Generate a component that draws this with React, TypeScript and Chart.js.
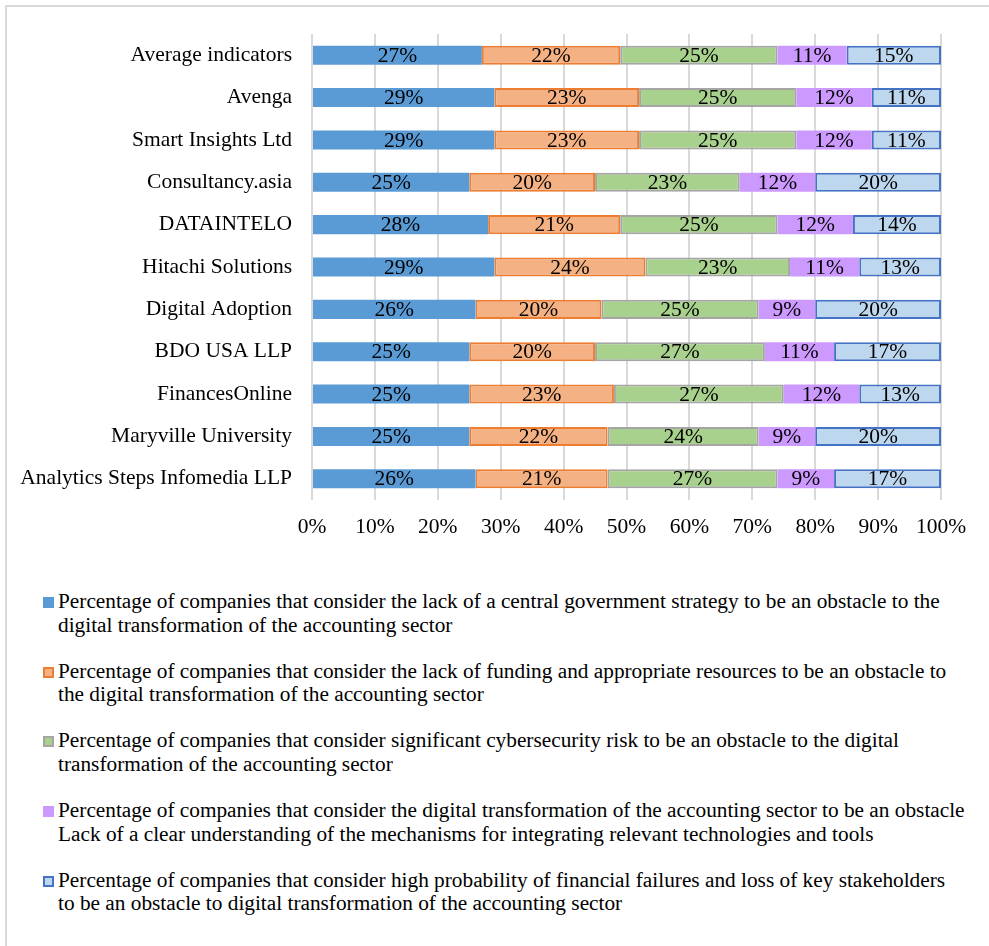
import React, { useEffect, useRef } from "react";
import { Chart, registerables } from "chart.js";

Chart.register(...registerables);

const categories = [
  "Average indicators",
  "Avenga",
  "Smart Insights Ltd",
  "Consultancy.asia",
  "DATAINTELO",
  "Hitachi Solutions",
  "Digital Adoption",
  "BDO USA LLP",
  "FinancesOnline",
  "Maryville University",
  "Analytics Steps Infomedia LLP",
];

const governmentStrategy = [27, 29, 29, 25, 28, 29, 26, 25, 25, 25, 26];
const fundingResources = [22, 23, 23, 20, 21, 24, 20, 20, 23, 22, 21];
const cybersecurityRisk = [25, 25, 25, 23, 25, 23, 25, 27, 27, 24, 27];
const lackUnderstanding = [11, 12, 12, 12, 12, 11, 9, 11, 12, 9, 9];
const financialFailures = [15, 11, 11, 20, 14, 13, 20, 17, 13, 20, 17];

const xTicks = [0, 10, 20, 30, 40, 50, 60, 70, 80, 90, 100];

const seriesLabels = [
  "Percentage of companies that consider the lack of a central government strategy to be an obstacle to the\ndigital transformation of the accounting sector",
  "Percentage of companies that consider the lack of funding and appropriate resources to be an obstacle to\nthe digital transformation of the accounting sector",
  "Percentage of companies that consider significant cybersecurity risk to be an obstacle to the digital\ntransformation of the accounting sector",
  "Percentage of companies that consider the digital transformation of the accounting sector to be an obstacle\nLack of a clear understanding of the mechanisms for integrating relevant technologies and tools",
  "Percentage of companies that consider high probability of financial failures and loss of key stakeholders\nto be an obstacle to digital transformation of the accounting sector",
];

const seriesValues = [governmentStrategy, fundingResources, cybersecurityRisk, lackUnderstanding, financialFailures];
const fillColors = ["#5b9bd5", "#f4b183", "#a9d18e", "#cc99ff", "#bdd7ee"];
const borderColors = ["#5b9bd5", "#ed7d31", "#a5a5a5", "#cc99ff", "#4472c4"];
const borderWidths = [0, 2, 2, 0, 2];

const FONT = '"Liberation Serif", "Times New Roman", serif';

const valueLabelPlugin = {
  id: "valueLabels",
  afterDatasetsDraw(chart: any) {
    const ctx = chart.ctx;
    ctx.save();
    ctx.font = `21.5px ${FONT}`;
    ctx.fillStyle = "#000";
    ctx.textAlign = "center";
    ctx.textBaseline = "middle";
    chart.data.datasets.forEach((ds: any, i: number) => {
      const meta = chart.getDatasetMeta(i);
      meta.data.forEach((el: any, j: number) => {
        const cx = (el.x + el.base) / 2;
        ctx.fillText(ds.data[j] + "%", cx, el.y + 1);
      });
    });
    ctx.restore();
  },
};

export default function App() {
  const ref = useRef<HTMLCanvasElement | null>(null);

  useEffect(() => {
    if (!ref.current) return;
    const chart = new Chart(ref.current, {
      type: "bar",
      data: {
        labels: categories,
        datasets: seriesValues.map((vals, i) => ({
          label: seriesLabels[i].replace("\n", " "),
          data: vals,
          backgroundColor: fillColors[i],
          borderColor: borderColors[i],
          borderWidth: borderWidths[i],
          borderSkipped: false,
          categoryPercentage: 1,
          barPercentage: 0.45,
        })),
      },
      options: {
        indexAxis: "y",
        animation: false,
        responsive: false,
        devicePixelRatio: 1,
        layout: { padding: { top: 34, right: 48, left: 0, bottom: 0 } },
        plugins: {
          legend: { display: false },
          tooltip: { enabled: false },
        },
        scales: {
          x: {
            stacked: true,
            min: 0,
            max: 100,
            afterBuildTicks: (scale: any) => {
              scale.ticks = xTicks.map((v) => ({ value: v }));
            },
            afterFit: (scale: any) => {
              scale.height = 60;
            },
            grid: { color: "#d9d9d9", lineWidth: 2, drawTicks: false },
            border: { display: false },
            ticks: {
              color: "#000",
              font: { family: FONT, size: 21.5 },
              padding: 14,
              callback: (v: any) => v + "%",
            },
          },
          y: {
            stacked: true,
            afterFit: (scale: any) => {
              scale.width = 312;
            },
            grid: { display: false, drawTicks: false },
            border: { display: false },
            ticks: {
              color: "#000",
              font: { family: FONT, size: 21.5 },
              padding: 20,
            },
          },
        },
      },
      plugins: [valueLabelPlugin],
    });
    return () => chart.destroy();
  }, []);

  return (
    <div
      style={{
        position: "absolute",
        left: 0,
        top: 0,
        width: 989,
        height: 946,
        overflow: "hidden",
        background: "#fff",
        fontFamily: FONT,
      }}
    >
      <div
        style={{
          position: "absolute",
          left: 5,
          top: 5,
          width: 1100,
          height: 1100,
          borderTop: "2px solid #d9d9d9",
          borderLeft: "2px solid #d9d9d9",
        }}
      />
      <canvas
        ref={ref}
        width={989}
        height={560}
        style={{ position: "absolute", left: 0, top: 0, width: 989, height: 560 }}
      />
      <div style={{ position: "absolute", left: 0, top: 590 }}>
        {seriesLabels.map((lab, i) => (
          <div
            key={i}
            style={{
              position: "relative",
              paddingLeft: 58,
              height: 69.7,
              fontSize: 21.3,
              lineHeight: "23.5px",
              color: "#000",
              whiteSpace: "pre",
            }}
          >
            <span
              style={{
                position: "absolute",
                left: 43,
                top: 7,
                width: 11,
                height: 11,
                boxSizing: "border-box",
                background: fillColors[i],
                border: borderWidths[i] ? `2px solid ${borderColors[i]}` : "none",
              }}
            />
            {lab}
          </div>
        ))}
      </div>
    </div>
  );
}
